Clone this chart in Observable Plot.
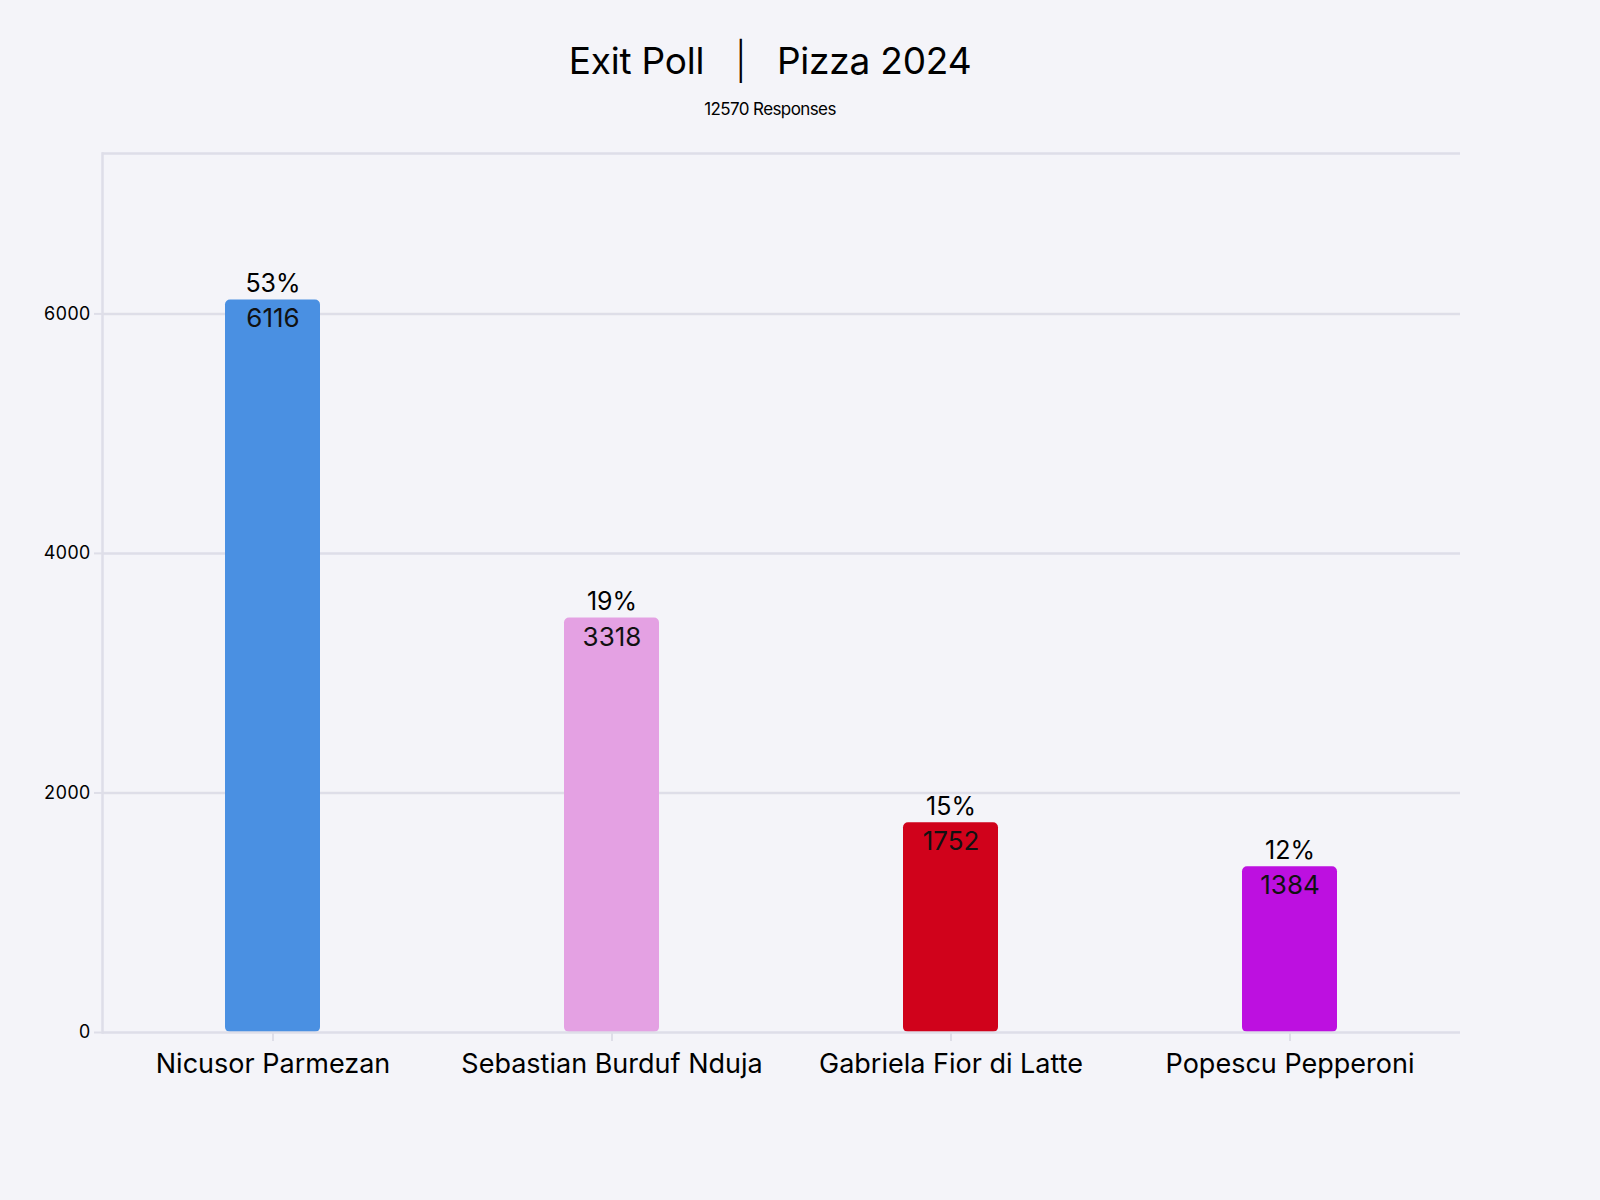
<!DOCTYPE html>
<html>
<head>
<meta charset="utf-8">
<script src="https://cdn.jsdelivr.net/npm/d3@7"></script>
<script src="https://cdn.jsdelivr.net/npm/@observablehq/plot@0.6"></script>
<style>
  html, body { margin: 0; padding: 0; background: #f4f4f9; }
  body { width: 1600px; height: 1200px; font-family: "Inter", "Open Sans", sans-serif; color: #000; }
  #head { height: 130px; position: relative; }
  #title { position: absolute; top: 38px; left: 0; width: 1540px; text-align: center; font-size: 37px; font-weight: 400; letter-spacing: -0.2px; }
  #subtitle { position: absolute; top: 99px; left: 0; width: 1540px; text-align: center; font-size: 17px; letter-spacing: -0.6px; }
  #chart svg { display: block; }
</style>
</head>
<body>
<div id="head">
  <div id="title">Exit Poll&nbsp;&nbsp;&nbsp;<span style="font-weight:300">|</span>&nbsp;&nbsp;&nbsp;Pizza 2024</div>
  <div id="subtitle">12570 Responses</div>
</div>
<div id="chart"></div>
<script>
const candidates = ["Nicusor Parmezan", "Sebastian Burduf Nduja", "Gabriela Fior di Latte", "Popescu Pepperoni"];
// bar heights as drawn in the picture
const barHeights = [6116, 3460, 1752, 1384];
// value labels as printed on the bars
const voteLabels = ["6116", "3318", "1752", "1384"];
const percents = ["53%", "19%", "15%", "12%"];
const colors = ["#4a90e2", "#e4a1e3", "#d0021b", "#bd10e0"];
const yTicks = [0, 2000, 4000, 6000];

const data = candidates.map((c, i) => ({candidate: c, votes: barHeights[i], label: voteLabels[i], pct: percents[i], color: colors[i]}));
const yMax = d3.max(barHeights) * 1.2;

const chart = Plot.plot({
  width: 1600,
  height: 1000,
  marginTop: 23,
  marginLeft: 102,
  marginRight: 140,
  marginBottom: 98,
  style: {background: "#f4f4f9", fontFamily: "Inter, 'Open Sans', sans-serif", color: "#000"},
  x: {domain: candidates, paddingInner: 0.72, paddingOuter: 0.36, label: null},
  y: {domain: [0, yMax], label: null},
  marks: [
    Plot.ruleY([...yTicks.slice(1), yMax], {stroke: "#dedee8", strokeWidth: 2.5, strokeOpacity: 1}),
    Plot.frame({anchor: "left", stroke: "#dedee8", strokeWidth: 2.5, strokeOpacity: 1}),
    Plot.barY(data, {x: "candidate", y: "votes", fill: "color", rx: 5}),
    Plot.ruleY([0], {stroke: "#dedee8", strokeWidth: 2.5}),
    Plot.axisY({ticks: yTicks, tickFormat: d => String(d), tickSize: 8, tickPadding: 4, stroke: "#dedee8", strokeWidth: 2, fontSize: 18, fill: "#000", label: null}),
    Plot.axisX({tickSize: 9, tickPadding: 12, stroke: "#dedee8", strokeWidth: 2, fontSize: 27, fill: "#000", label: null}),
    Plot.text(data, {x: "candidate", y: "votes", text: "pct", lineAnchor: "bottom", dy: -8, fontSize: 25, fill: "#000"}),
    Plot.text(data, {x: "candidate", y: "votes", text: "label", lineAnchor: "top", dy: 9, fontSize: 26, fill: "#111"})
  ]
});
document.getElementById("chart").appendChild(chart);
</script>
</body>
</html>
